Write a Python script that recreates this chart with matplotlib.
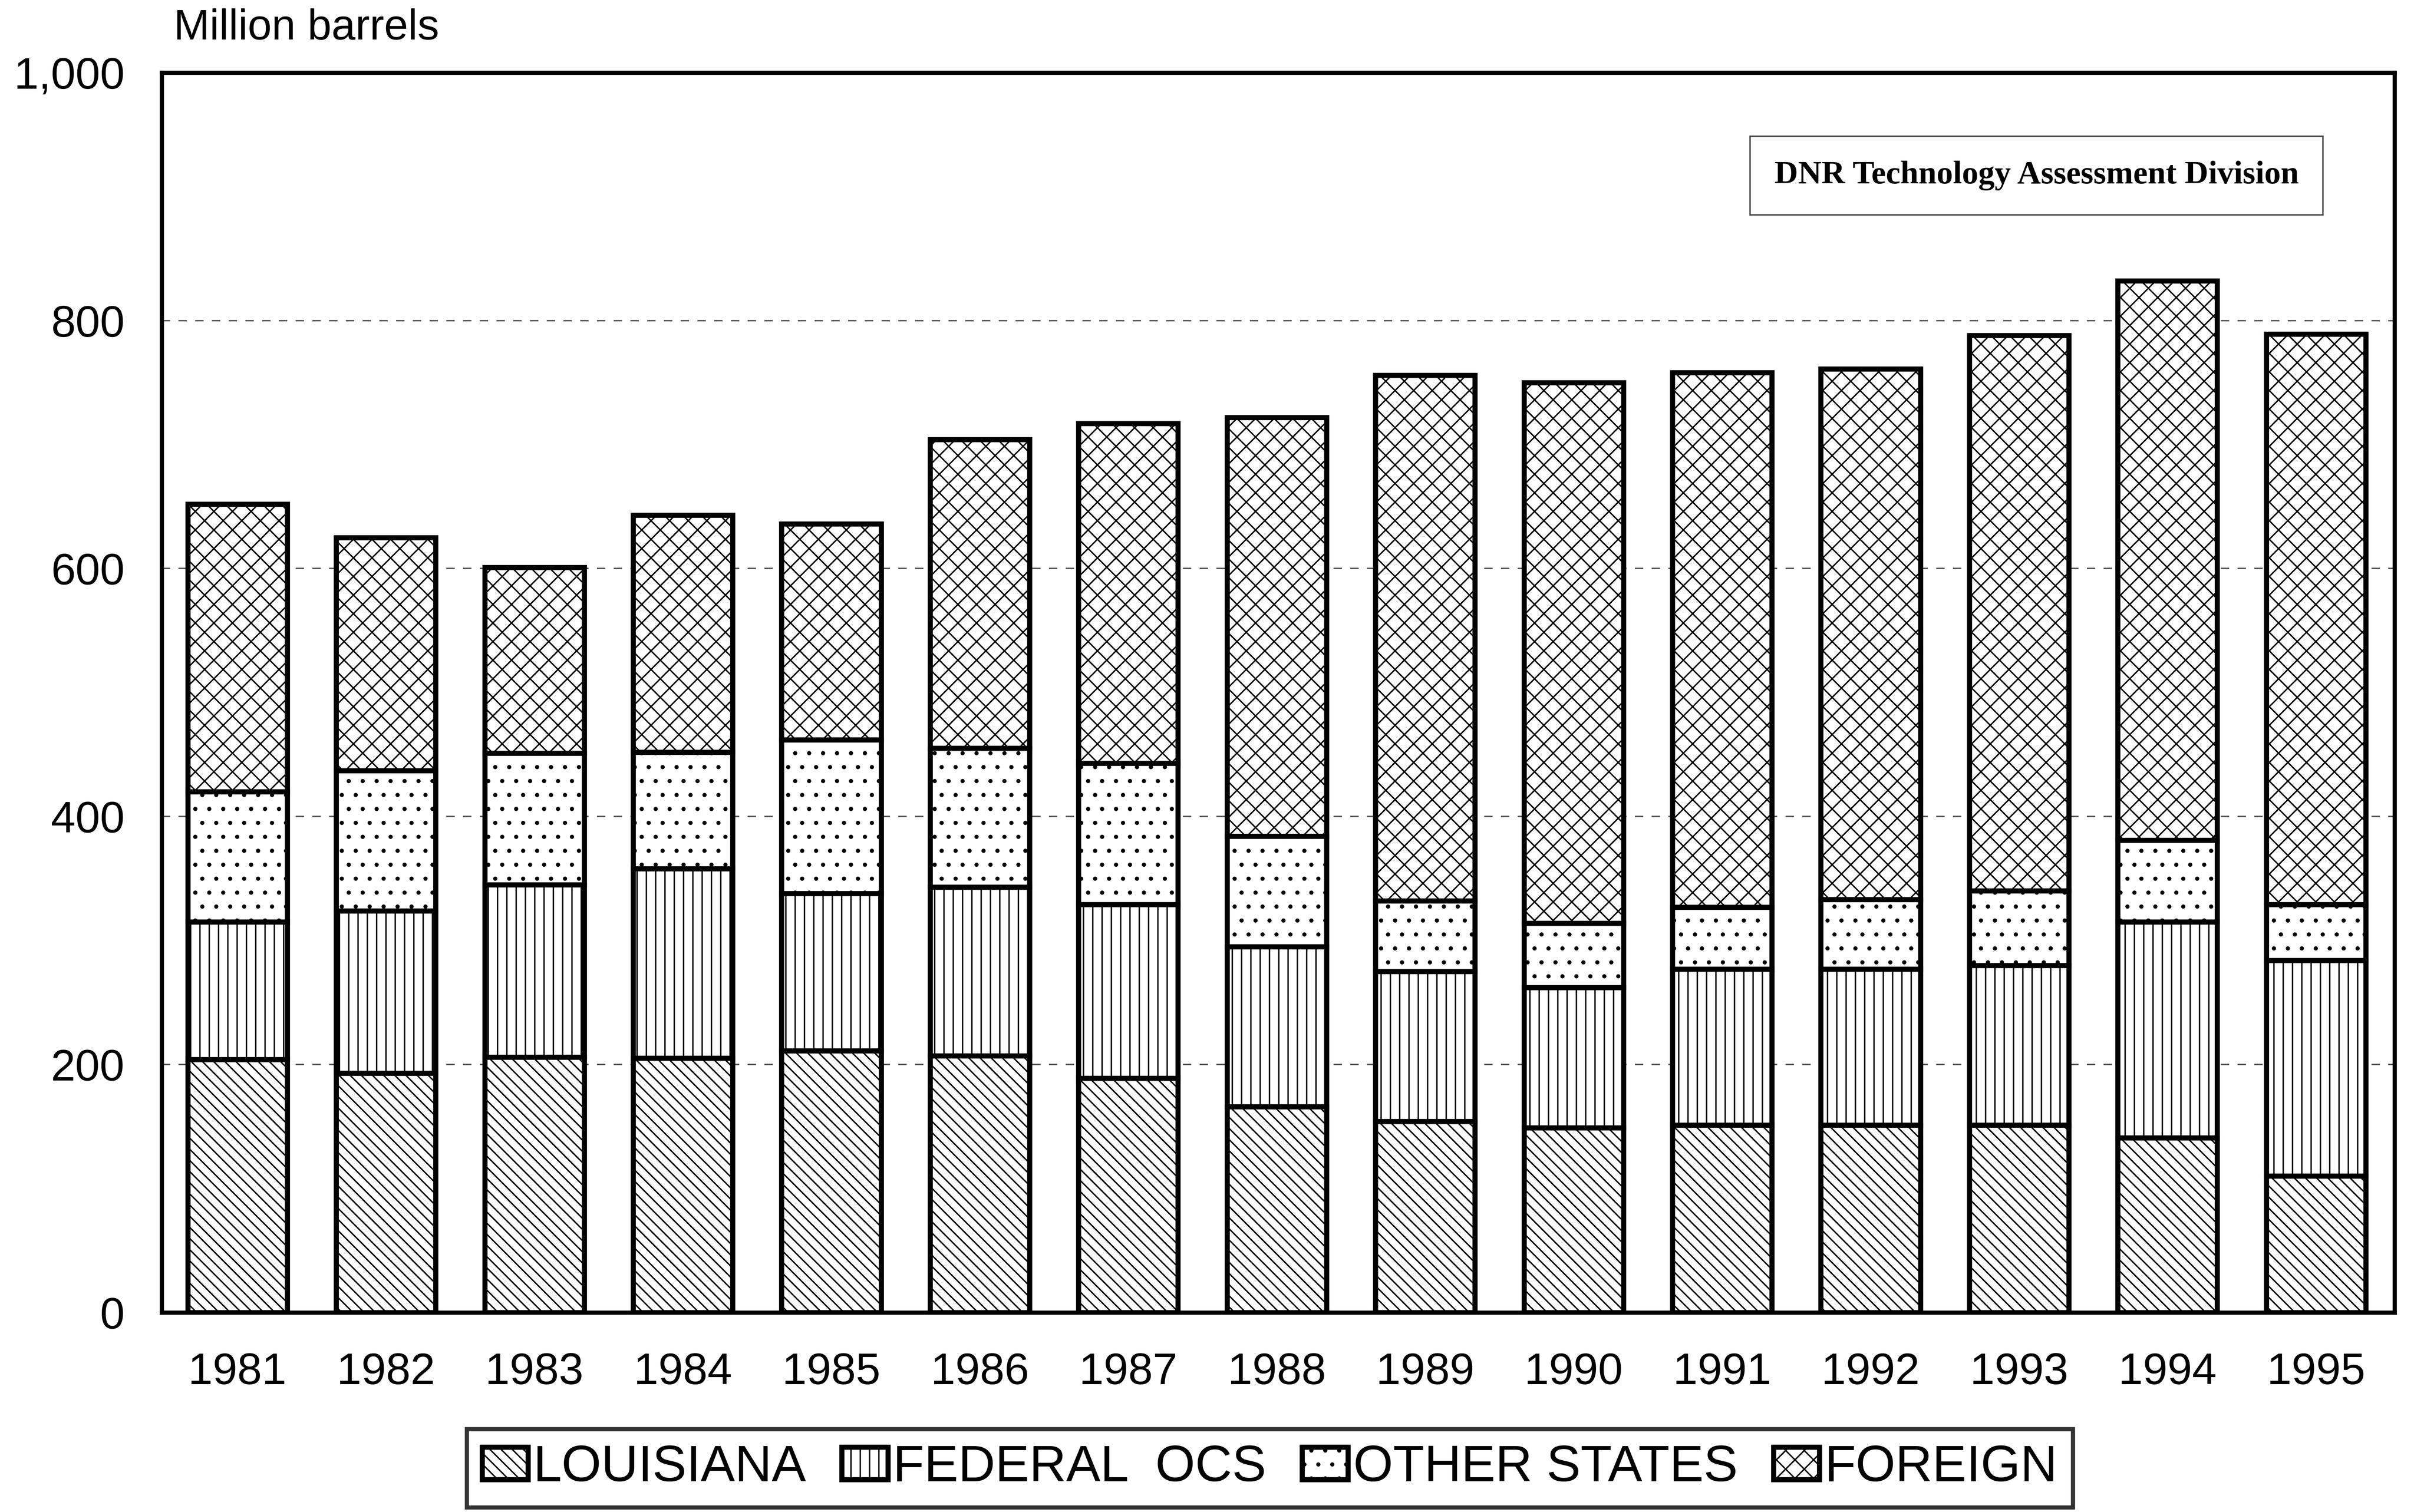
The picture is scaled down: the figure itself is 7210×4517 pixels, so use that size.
import matplotlib.pyplot as plt
import numpy as np

plt.rcParams['font.family'] = ['Liberation Sans', 'DejaVu Sans']
plt.rcParams['hatch.linewidth'] = 0.6

years = ['1981', '1982', '1983', '1984', '1985', '1986', '1987', '1988',
         '1989', '1990', '1991', '1992', '1993', '1994', '1995']
# cumulative tops (million barrels)
louisiana_top = [204, 193, 206, 205, 211, 207, 189, 166, 154, 149, 151, 151, 151, 141, 110]
federal_top = [315, 324, 345, 358, 338, 343, 329, 295, 275, 262, 277, 277, 280, 315, 284]
other_top = [420, 437, 451, 452, 462, 455, 443, 384, 332, 314, 327, 333, 340, 381, 329]
total = [652, 625, 601, 643, 636, 704, 717, 722, 756, 750, 758, 761, 788, 832, 789]

louisiana = np.array(louisiana_top)
federal = np.array(federal_top) - np.array(louisiana_top)
other = np.array(other_top) - np.array(federal_top)
foreign = np.array(total) - np.array(other_top)

fig = plt.figure(figsize=(14.42, 9.034), dpi=500)
ax = fig.add_axes([0.067, 0.132, 0.925, 0.820])

x = np.arange(len(years))
w = 0.67
common = dict(width=w, color='white', edgecolor='black', linewidth=2.2, zorder=3)
ax.bar(x, louisiana, hatch='\\\\\\\\\\', label='LOUISIANA', **common)
ax.bar(x, federal, bottom=louisiana, hatch='|||', label='FEDERAL  OCS', **common)
ax.bar(x, other, bottom=louisiana + federal, hatch='..', label='OTHER STATES', **common)
ax.bar(x, foreign, bottom=louisiana + federal + other, hatch='xxx', label='FOREIGN', **common)

ax.set_xlim(-0.51, 14.53)
ax.set_ylim(0, 1000)
ax.set_yticks([0, 200, 400, 600, 800, 1000])
ax.set_yticklabels(['0', '200', '400', '600', '800', '1,000'])
ax.set_xticks(x)
ax.set_xticklabels(years)
ax.tick_params(axis='both', length=0, labelsize=19)
ax.tick_params(axis='x', pad=17)
ax.tick_params(axis='y', pad=16)
ax.yaxis.grid(True, linestyle=(0, (6, 6)), color='#555555', linewidth=0.6, zorder=0)
for s in ax.spines.values():
    s.set_linewidth(1.8)

fig.text(0.072, 0.968, 'Million barrels', fontsize=18.5, ha='left', va='bottom')

ax.text(0.957, 0.917, 'DNR Technology Assessment Division', transform=ax.transAxes,
        family=['Liberation Serif', 'DejaVu Serif'], fontweight='bold', fontsize=14,
        ha='right', va='center',
        bbox=dict(boxstyle='square,pad=0.75', facecolor='white', edgecolor='#444444', linewidth=0.6))

leg = fig.legend(loc='center', bbox_to_anchor=(0.526, 0.029), ncol=4, fontsize=22,
                 frameon=True, fancybox=False, edgecolor='black', handlelength=0.9,
                 handleheight=0.6, handletextpad=0.1, columnspacing=0.7, borderpad=0.3,
                 borderaxespad=0)
leg.get_frame().set_linewidth(1.8)

fig.savefig('out.png', dpi=500, facecolor='white')
